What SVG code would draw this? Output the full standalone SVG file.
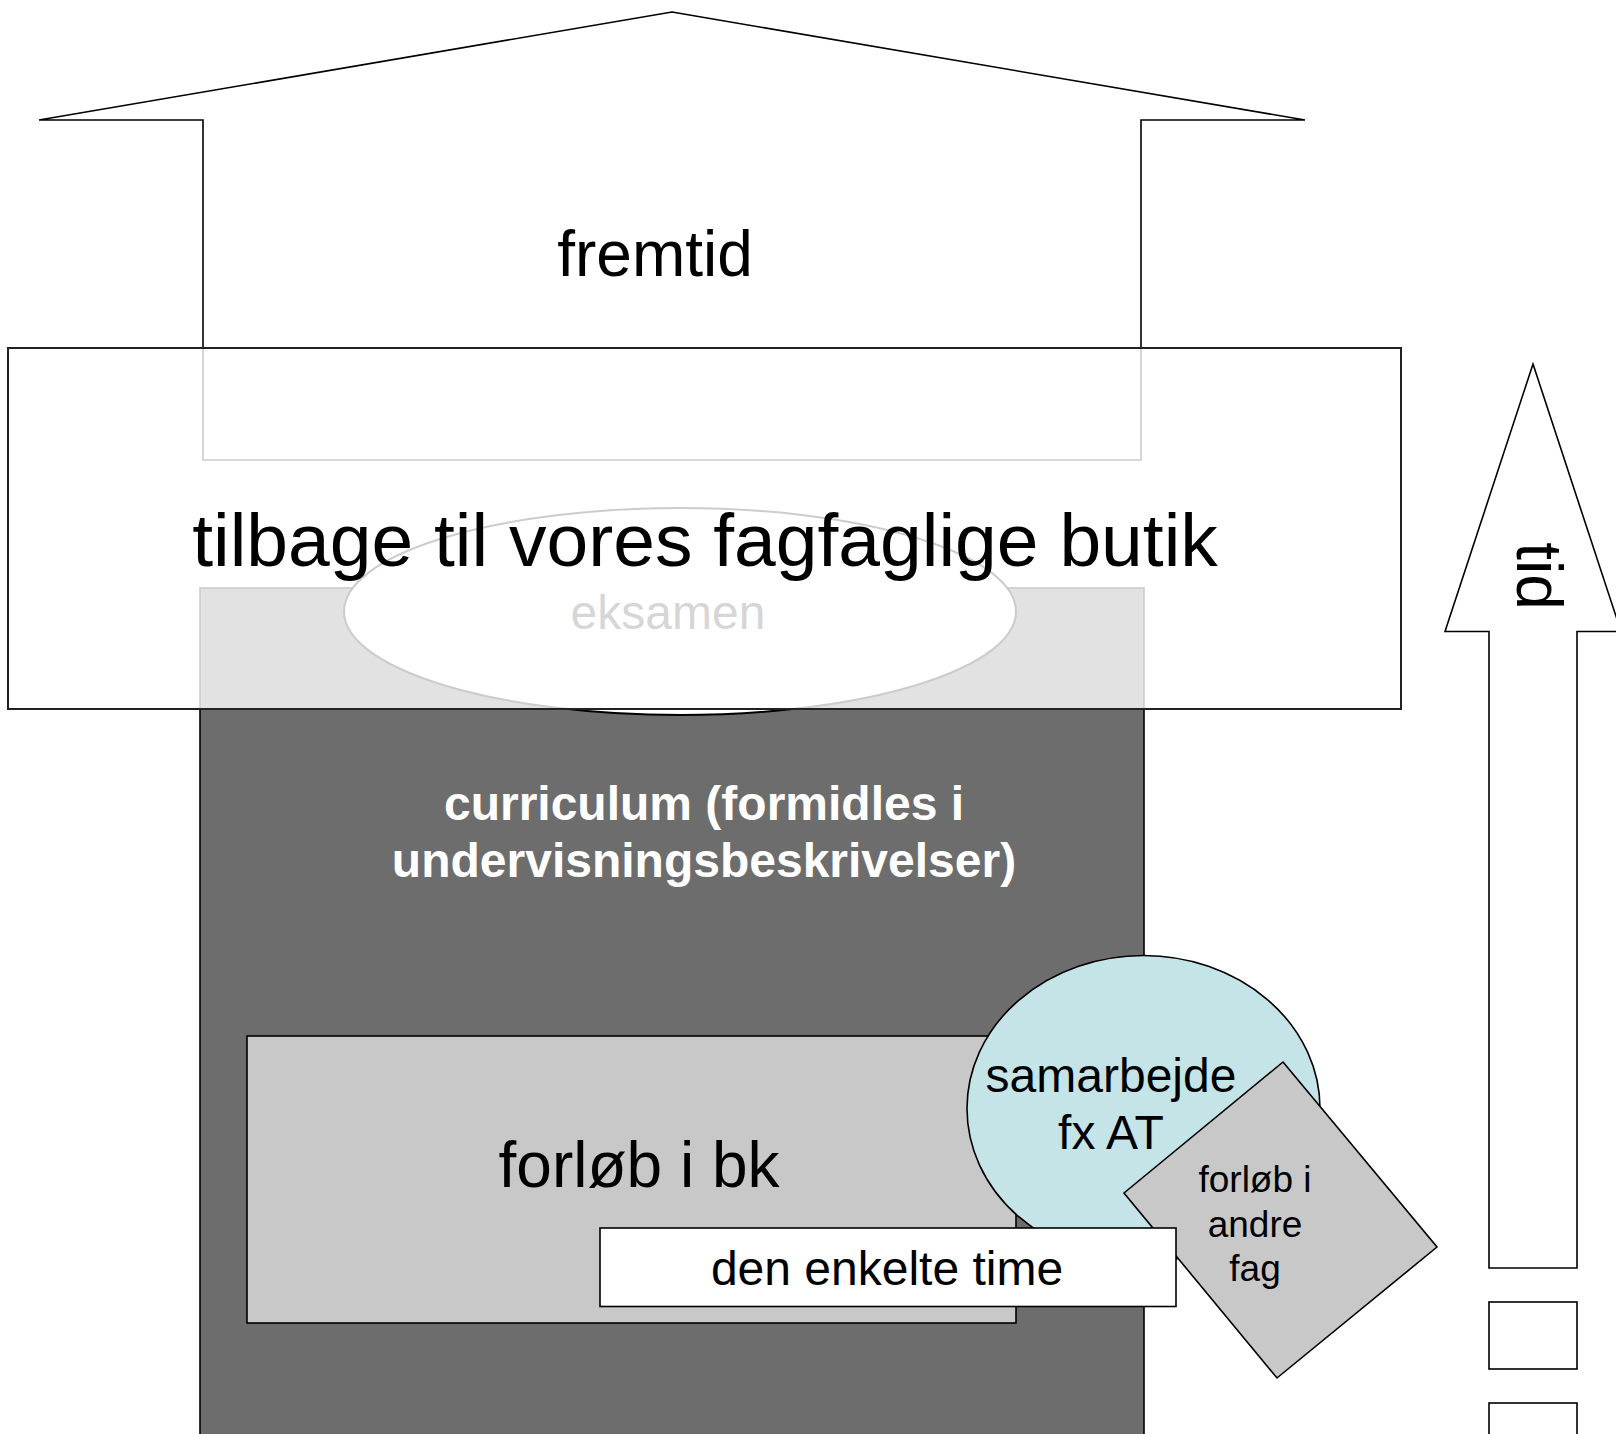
<svg xmlns="http://www.w3.org/2000/svg" width="1616" height="1434" viewBox="0 0 1616 1434">
<style>
text{font-family:"Liberation Sans",Arial,sans-serif;text-anchor:middle;fill:#000}
.sh{stroke:#000;stroke-width:1.6}
.w{fill:#fff}
</style>
<rect x="0" y="0" width="1616" height="1434" fill="#fff"/>
<g id="fremtid">
<polygon class="sh w" stroke-width="2" points="672,12 1305,120 1141,120 1141,460 203,460 203,120 39,120"/>
<text x="655" y="276" font-size="64">fremtid</text>
</g>
<g id="curriculum">
<rect class="sh" x="200" y="588" width="944" height="870" fill="#6d6d6d"/>
<text x="704" y="820" font-size="48" font-weight="bold" style="fill:#fff">curriculum (formidles i</text>
<text x="704" y="877" font-size="48" font-weight="bold" style="fill:#fff">undervisningsbeskrivelser)</text>
</g>
<g id="eksamen">
<ellipse class="w" cx="680" cy="611.5" rx="336" ry="103.5" stroke="#000" stroke-width="2"/>
<text x="668" y="629" font-size="48" style="fill:#333">eksamen</text>
</g>
<g id="tilbage">
<rect x="8" y="348" width="1393" height="361" fill="#fff" fill-opacity="0.8" stroke="#222" stroke-width="2"/>
<text x="705" y="566" font-size="75">tilbage til vores fagfaglige butik</text>
</g>
<g id="forloeb-bk">
<rect class="sh" x="247" y="1036" width="769" height="287" fill="#c8c8c8"/>
<text x="639" y="1187" font-size="64">forløb i bk</text>
</g>
<g id="samarbejde">
<ellipse class="sh" cx="1143.5" cy="1108.5" rx="176.5" ry="153" fill="#c5e4e8" stroke-width="1.5"/>
<text x="1111" y="1092" font-size="48">samarbejde</text>
<text x="1111" y="1149" font-size="48">fx AT</text>
</g>
<g id="forloeb-andre">
<polygon class="sh" stroke-width="1.5" points="1283,1062 1437,1247 1277,1378 1124,1193" fill="#c8c8c8"/>
<text x="1255" y="1192" font-size="37">forløb i</text>
<text x="1255" y="1236.5" font-size="37">andre</text>
<text x="1255" y="1281" font-size="37">fag</text>
</g>
<g id="den-enkelte-time">
<rect class="sh w" x="600" y="1228" width="576" height="78.5"/>
<text x="887" y="1285" font-size="48">den enkelte time</text>
</g>
<g id="tid">
<polygon class="sh w" points="1533,364 1621,631.5 1577,631.5 1577,1268 1489,1268 1489,631.5 1445,631.5"/>
<text x="1517" y="576" font-size="64" transform="rotate(90 1517 576)">tid</text>
<rect class="sh w" x="1489" y="1302" width="88" height="67"/>
<rect class="sh w" x="1489" y="1403" width="88" height="67"/>
</g>
<g id="connectors"/>
</svg>
